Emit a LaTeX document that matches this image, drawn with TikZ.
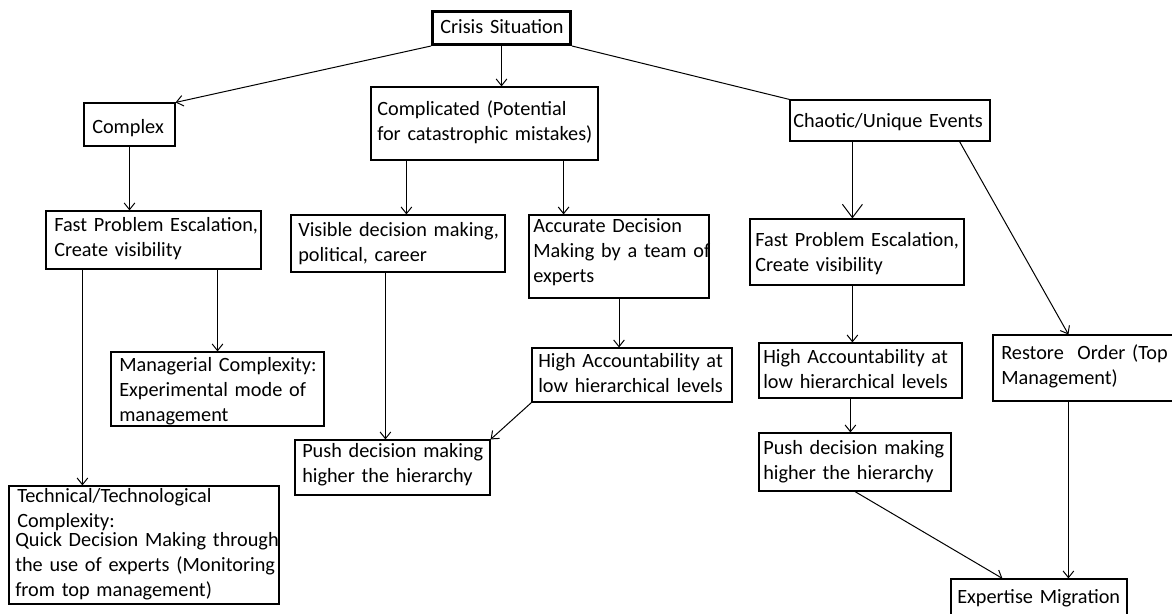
\documentclass[tikz,border=0pt]{standalone}
\usepackage{fontspec}
\setmainfont{Carlito}[WordSpace=0.8]
\usetikzlibrary{arrows.meta,fit,calc}
\begin{document}
\begin{tikzpicture}[x=0.75pt,y=-0.75pt,
  box/.style={draw,line width=0.85pt,inner sep=0pt},
  thickbox/.style={draw,line width=2.25pt,inner sep=0pt},
  lbl/.style={anchor=base west,inner sep=0pt,align=left,text width=300pt,
    font=\fontsize{15.2}{18.75}\selectfont},
  conn/.style={line width=0.75pt},
  arr/.style={conn,-{Straight Barb[length=5pt,width=8pt]}},
  bigarr/.style={conn,-{Straight Barb[length=10pt,width=15pt]}}
]
\useasboundingbox (0,0) rectangle (1172,614);
\fill[white] (0,0) rectangle (1172,614);

% boxes
\node[thickbox,fit={(432.5,11.5)(570.5,44.5)}] (crisis) {};
\node[box,fit={(84,103)(175,146)}] (complex) {};
\node[box,fit={(371,87)(598,160)}] (compl) {};
\node[box,fit={(790,100)(990,141)}] (chaotic) {};
\node[box,fit={(46,211)(261,269)}] (fast1) {};
\node[box,fit={(291,215)(505,272)}] (visible) {};
\node[box,fit={(529,215)(709,298)}] (accurate) {};
\node[box,fit={(750,219)(964,285)}] (fast2) {};
\node[box,fit={(111,352)(324,426)}] (mgr) {};
\node[box,fit={(9,486)(279,604)}] (tech) {};
\node[box,fit={(295,440)(490,495)}] (push1) {};
\node[box,fit={(532,348)(732,402)}] (ha1) {};
\node[box,fit={(759,343)(962,398)}] (ha2) {};
\node[box,fit={(759,433)(951,491)}] (push2) {};
\node[box,fit={(993,335)(1190,401)}] (restore) {};
\node[box,fit={(951,579)(1127,630)}] (exp) {};

% labels
\node[lbl] (tcrisis) at (440,33) {Crisis Situation};
\node[lbl] (tcomplex) at (92,133) {Complex};
\node[lbl] (tcompl) at (377,115) {Complicated (Potential\\for catastrophic mistakes)};
\node[lbl] (tchaotic) at (793,127) {Chaotic/Unique Events};
\node[lbl] (tfast1) at (54,231) {Fast Problem Escalation,\\Create visibility};
\node[lbl] (tvisible) at (298,236) {Visible decision making,\\political, career};
\node[lbl] (taccurate) at (533,232) {Accurate Decision\\Making by a team of\\experts};
\node[lbl] (tfast2) at (755,246) {Fast Problem Escalation,\\Create visibility};
\node[lbl] (tmgr) at (119,371) {Managerial Complexity:\\Experimental mode of\\management};
\node[lbl] (ttech) at (17,502) {Technical/Technological\\Complexity:};
\node[lbl] (ttech2) at (15,546) {Quick Decision Making through\\the use of experts (Monitoring\\from top management)};
\node[lbl] (tpush1) at (302,457) {Push decision making\\higher the hierarchy};
\node[lbl] (tha1) at (538,367) {High Accountability at\\low hierarchical levels};
\node[lbl] (tha2) at (763,363) {High Accountability at\\low hierarchical levels};
\node[lbl] (tpush2) at (763,454) {Push decision making\\higher the hierarchy};
\node[lbl] (trestore) at (1001,359) {Restore\ \ Order (Top\\Management)};
\node[lbl] (texp) at (957,603) {Expertise Migration};

% helper coordinates
\coordinate (f1t) at ($(fast1.south west)+(37,0)$);
\coordinate (cv) at ($(compl.south west)+(36,0)$);
\coordinate (ca) at ($(compl.south east)+(-35,0)$);
\coordinate (vp) at ($(visible.south west)+(95,0)$);
\coordinate (cf) at ($(chaotic.south west)+(63,0)$);
\coordinate (cr1) at ($(chaotic.south east)+(-31,0)$);
\coordinate (cr2) at ($(restore.north west)+(76,0)$);
\coordinate (fh) at ($(fast2.south west)+(103,0)$);
\coordinate (hp) at ($(ha2.south west)+(92,0)$);
\coordinate (pe) at ($(exp.north west)+(52,0)$);
\coordinate (re) at ($(restore.south west)+(76,0)$);

% connectors
\draw[arr] (crisis.south west) -- (complex.north east);
\draw[arr] (crisis.south) -- (crisis.south |- compl.north);
\draw[conn] (crisis.south east) -- (chaotic.north west);
\draw[arr] (complex.south) -- (complex.south |- fast1.north);
\draw[arr] (f1t) -- (f1t |- tech.north);
\draw[arr] (mgr.north |- fast1.south) -- (mgr.north);
\draw[arr] (cv) -- (cv |- visible.north);
\draw[arr] (ca) -- (ca |- accurate.north);
\draw[arr] (vp) -- (vp |- push1.north);
\draw[arr] (accurate.south) -- (accurate.south |- ha1.north);
\draw[arr] (ha1.south west) -- (push1.north east);
\draw[bigarr] (cf) -- (cf |- fast2.north);
\draw[arr] (cr1) -- (cr2);
\draw[arr] (fh) -- (fh |- ha2.north);
\draw[arr] (hp) -- (hp |- push2.north);
\draw[arr] (push2.south) -- (pe);
\draw[arr] (re) -- (re |- exp.north);
\end{tikzpicture}
\end{document}
